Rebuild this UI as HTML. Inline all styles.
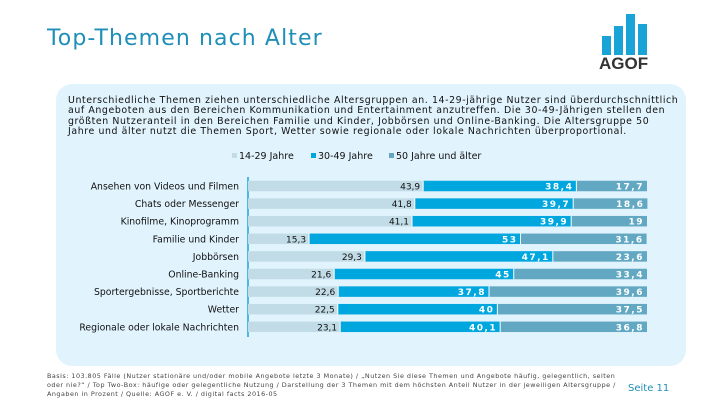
<!DOCTYPE html>
<html><head><meta charset="utf-8"><style>
body{margin:0;width:720px;height:405px;background:#fff;position:relative;overflow:hidden;font-family:"DejaVu Sans","Liberation Sans",sans-serif}
.title{position:absolute;left:47px;top:26px;font-size:22px;color:#1f8fb8;font-family:"DejaVu Sans",sans-serif;letter-spacing:1.1px}
.panel{position:absolute;left:56px;top:84px;width:630px;height:282px;background:#e1f3fd;border-radius:16px}
.para{position:absolute;left:68px;top:96px;white-space:nowrap;font-size:9.4px;line-height:10.4px;color:#111;letter-spacing:0.6px}
.foot{position:absolute;left:47px;top:372px;font-size:6.4px;line-height:9px;color:#444;white-space:nowrap;letter-spacing:0.5px}
.seite{position:absolute;left:628px;top:383px;font-size:10px;color:#1f8fb8}
</style></head><body>
<div class="title">Top-Themen nach Alter</div>
<svg style="position:absolute;left:598px;top:12px" width="70" height="60">
<rect x="4" y="24" width="9" height="19" fill="#1aa3d6"/><rect x="16" y="14" width="9" height="29" fill="#1aa3d6"/><rect x="28" y="2" width="9" height="41" fill="#1aa3d6"/><rect x="40" y="12" width="9" height="31" fill="#1aa3d6"/>
<text x="1" y="57" font-family="Liberation Sans" font-weight="bold" font-size="17" fill="#333">AGOF</text></svg>
<div class="panel"></div>
<div class="para">Unterschiedliche Themen ziehen unterschiedliche Altersgruppen an. 14-29-jährige Nutzer sind überdurchschnittlich<br>auf Angeboten aus den Bereichen Kommunikation und Entertainment anzutreffen. Die 30-49-Jährigen stellen den<br>größten Nutzeranteil in den Bereichen Familie und Kinder, Jobbörsen und Online-Banking. Die Altersgruppe 50<br>Jahre und älter nutzt die Themen Sport, Wetter sowie regionale oder lokale Nachrichten überproportional.</div>
<svg id="chart" style="position:absolute;left:0;top:0" width="720" height="405"></svg>
<div class="foot">Basis: 103.805 Fälle (Nutzer stationäre und/oder mobile Angebote letzte 3 Monate) / „Nutzen Sie diese Themen und Angebote häufig, gelegentlich, selten<br>oder nie?“ / Top Two-Box: häufige oder gelegentliche Nutzung / Darstellung der 3 Themen mit dem höchsten Anteil Nutzer in der jeweiligen Altersgruppe /<br>Angaben in Prozent / Quelle: AGOF e. V. / digital facts 2016-05</div>
<div class="seite">Seite 11</div>
<script>
const categories=["Ansehen von Videos und Filmen","Chats oder Messenger","Kinofilme, Kinoprogramm","Familie und Kinder","Jobbörsen","Online-Banking","Sportergebnisse, Sportberichte","Wetter","Regionale oder lokale Nachrichten"];
const young=[43.9,41.8,41.1,15.3,29.3,21.6,22.6,22.5,23.1];
const mid=[38.4,39.7,39.9,53,47.1,45,37.8,40,40.1];
const old=[17.7,18.6,19,31.6,23.6,33.4,39.6,37.5,36.8];
const seriesNames=["14-29 Jahre","30-49 Jahre","50 Jahre und älter"];
const colors=["#c1dce7","#00a7de","#62a8c3"];
const svg=document.getElementById('chart');const NS="http://www.w3.org/2000/svg";
const x0=248,x1=647;const xs=v=>x0+(x1-x0)*v/100;
const y0=186,step=17.6,bh=10.5;const ys=i=>y0+i*step;
function mk(t,a,txt){const e=document.createElementNS(NS,t);for(const k in a)e.setAttribute(k,a[k]);if(txt!=null)e.textContent=txt;svg.appendChild(e);return e;}
const ax=mk('line',{x1:x0,y1:177,x2:x0,y2:337,stroke:'#1aa3d6','stroke-width':1.5});


let lx=232;
seriesNames.forEach((n,k)=>{
 const r=mk('rect',{x:lx,y:153,width:5,height:5,fill:colors[k]});
 
 
 const t=mk('text',{x:lx+7,y:159,'font-size':9.5,fill:'#111'},n);
 
 
 lx+=[79,78,0][k];
});
const fmt=v=>String(v).replace('.',',');
categories.forEach((c,i)=>{
 const cy=ys(i);
 const lab=mk('text',{x:239,y:cy+3.5,'font-size':9.3,'text-anchor':'end',fill:'#111'},c);
 
 
 const vals=[young[i],mid[i],old[i]];let acc=0;
 vals.forEach((v,k)=>{
  const xa=xs(acc),xb=xs(acc+v);
  const r=mk('rect',{x:xa,y:cy-bh/2,width:xb-xa,height:bh,fill:colors[k]});
  
  
  if(k>0){const s=mk('line',{x1:xa,y1:cy-bh/2,x2:xa,y2:cy+bh/2,stroke:'#fff','stroke-width':1});}
  const t=mk('text',{x:xb-3,y:cy+3.5,'font-size':9,'text-anchor':'end',fill:k==0?'#111':'#fff','font-weight':k==0?'normal':'bold','letter-spacing':k==0?0:1.5},fmt(v));
  
  
  acc+=v;
 });
});
</script>
</body></html>
